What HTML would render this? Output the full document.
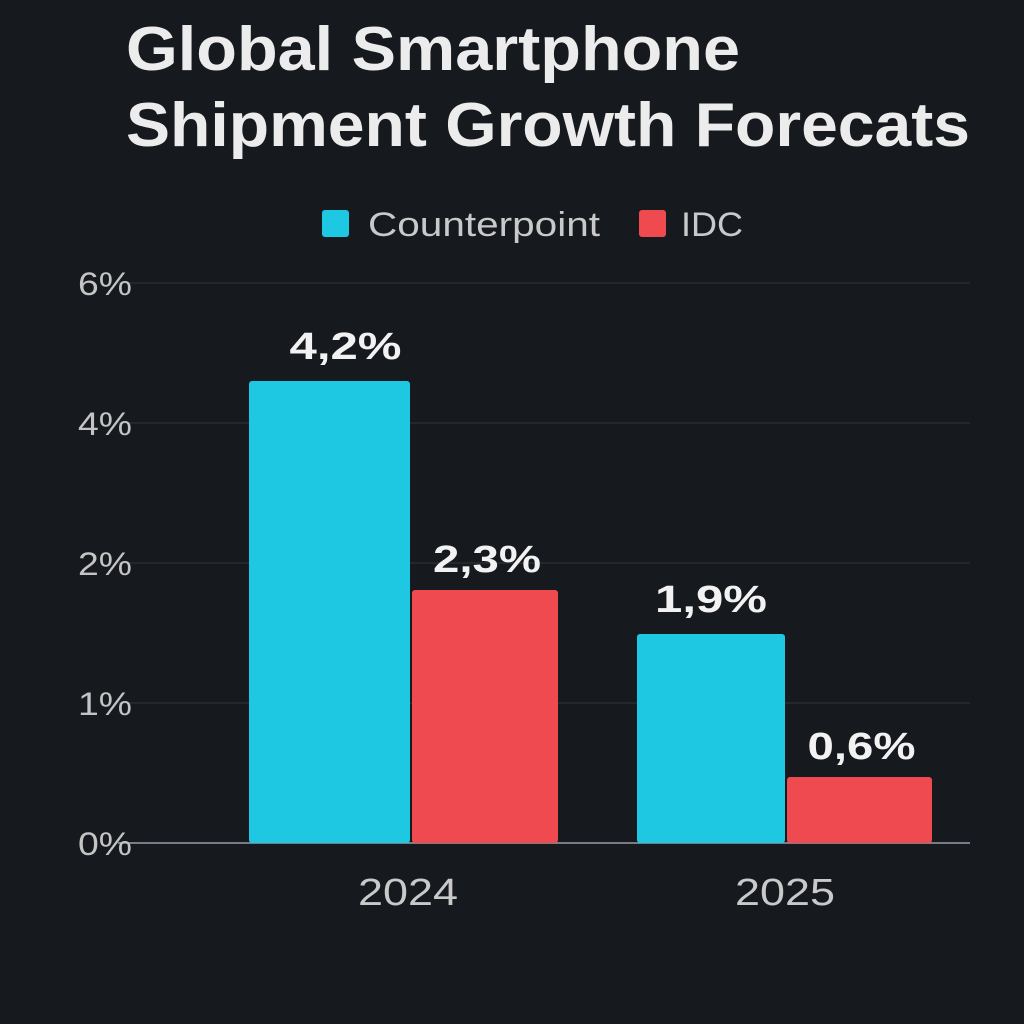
<!DOCTYPE html>
<html><head><meta charset="utf-8"><style>
html,body{margin:0;padding:0;background:#16191d;width:1024px;height:1024px;overflow:hidden}
text{font-family:"Liberation Sans",sans-serif}
</style></head><body>
<svg id="chart" width="1024" height="1024" viewBox="0 0 1024 1024">
<rect width="1024" height="1024" fill="#16191d"/>
<text x="126" y="70" font-size="62" font-weight="bold" fill="#ececec" textLength="614" lengthAdjust="spacingAndGlyphs">Global Smartphone</text>
<text x="126" y="146" font-size="62" font-weight="bold" fill="#ececec" textLength="844" lengthAdjust="spacingAndGlyphs">Shipment Growth Forecats</text>
<g>
<rect x="322" y="210" width="27" height="27" rx="3" fill="#1ec8e3"/>
<text x="368" y="236" font-size="34" fill="#c9c9c9" textLength="232" lengthAdjust="spacingAndGlyphs">Counterpoint</text>
<rect x="639" y="210" width="27" height="27" rx="3" fill="#ef4a50"/>
<text x="681" y="236" font-size="34" fill="#c9c9c9" textLength="62" lengthAdjust="spacingAndGlyphs">IDC</text>
</g>
<g id="grid"></g><g id="bars"></g>
</svg>
<script>
const categories = ["2024", "2025"];
const counterpoint = [4.2, 1.9];
const idc = [2.3, 0.6];
const counterpointLabels = ["4,2%", "1,9%"];
const idcLabels = ["2,3%", "0,6%"];
const tickLabels = ["0%", "1%", "2%", "4%", "6%"];

const NS = "http://www.w3.org/2000/svg";
const baseY = 843, tickStep = 140, pxPerUnit = 110;
const groupLeft = [249, 637];
function y(v){ return baseY - v * pxPerUnit; }
function mk(tag, attrs, parent, txt){
  const e = document.createElementNS(NS, tag);
  for (const k in attrs) e.setAttribute(k, attrs[k]);
  if (txt !== undefined) e.textContent = txt;
  parent.appendChild(e); return e;
}
const grid = document.getElementById("grid");
tickLabels.forEach((t, i) => {
  const yy = baseY - i * tickStep;
  const l = mk("line", {x1:118, x2:970, y1:yy, y2:yy, stroke: i===0 ? "#9a9ea3" : "#2d3136", "stroke-width": i===0 ? 1.5 : 1.2}, grid);
  
  
  const tx = mk("text", {x:78, y:yy+12, "font-size":32, fill:"#c4c4c4", textLength:54, lengthAdjust:"spacingAndGlyphs"}, grid, t);
  
  
});
const bars = document.getElementById("bars");
categories.forEach((c, i) => {
  const x0 = groupLeft[i];
  const w1 = i===0 ? 161 : 148;
  const rx = x0 + w1 + 2;
  const w2 = i===0 ? 146 : 145;
  const r1 = mk("rect", {x:x0, y:y(counterpoint[i]), width:w1, height:baseY - y(counterpoint[i]), rx:3, fill:"#1ec8e3"}, bars);
  
  
  const r2 = mk("rect", {x:rx, y:y(idc[i]), width:w2, height:baseY - y(idc[i]), rx:3, fill:"#ef4a50"}, bars);
  
  
  const l1 = mk("text", {x:x0 + w1/2 + (i===0?16:0), y:y(counterpoint[i]) - 22, "font-size":38, "font-weight":"bold", fill:"#f2f2f2", "text-anchor":"middle", textLength:112, lengthAdjust:"spacingAndGlyphs"}, bars, counterpointLabels[i]);
  
  
  const l2 = mk("text", {x:rx + w2/2 + 2, y:y(idc[i]) - 18, "font-size":38, "font-weight":"bold", fill:"#f2f2f2", "text-anchor":"middle", textLength:108, lengthAdjust:"spacingAndGlyphs"}, bars, idcLabels[i]);
  
  
  const xl = mk("text", {x: i===0 ? 408 : 785, y:905, "font-size":38, fill:"#c9c9c9", "text-anchor":"middle", textLength:100, lengthAdjust:"spacingAndGlyphs"}, bars, c);
  
  
});
</script>
</body></html>
